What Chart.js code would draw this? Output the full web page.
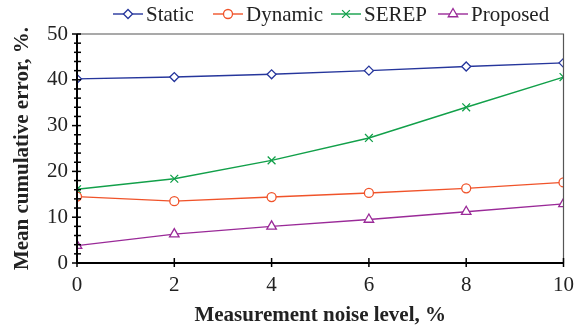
<!DOCTYPE html>
<html>
<head>
<meta charset="utf-8">
<script src="https://cdn.jsdelivr.net/npm/chart.js@4/dist/chart.umd.min.js"></script>
<style>
  html, body { margin: 0; padding: 0; background: #fff; }
  #wrap { width: 584px; height: 328px; position: relative; }
</style>
</head>
<body>
<div id="wrap"><canvas id="chartCanvas" width="584" height="328"></canvas></div>
<script>
// Data
const noiseLevels = [0, 2, 4, 6, 8, 10];
const staticErr   = [40.2, 40.6, 41.2, 42.0, 42.9, 43.7];
const dynamicErr  = [14.5, 13.5, 14.4, 15.3, 16.3, 17.6];
const serepErr    = [16.1, 18.4, 22.4, 27.3, 34.0, 40.6];
const proposedErr = [3.8, 6.3, 8.0, 9.5, 11.2, 12.9];
const yTicks = [0, 10, 20, 30, 40, 50];
const xTicks = [0, 2, 4, 6, 8, 10];

const FONT = '"Liberation Serif", "DejaVu Serif", serif';

function toPoints(ys) {
    return noiseLevels.map((x, i) => ({ x: x, y: ys[i] }));
}

function series(label, ys, color, style, radius) {
    return {
        label: label,
        data: toPoints(ys),
        borderColor: color,
        backgroundColor: '#ffffff',
        pointBorderColor: color,
        pointBackgroundColor: '#ffffff',
        pointStyle: style,
        pointRadius: radius,
        pointBorderWidth: 1.3,
        borderWidth: 1.4,
        tension: 0
    };
}

// Frame, inward ticks and line+marker legend
const decorPlugin = {
    id: 'decor',
    afterDraw(chart) {
        const ctx = chart.ctx;
        const a = chart.chartArea;
        const xs = chart.scales.x;
        const ys = chart.scales.y;
        ctx.save();

        // top / right border (grey)
        ctx.strokeStyle = '#555';
        ctx.lineWidth = 1.2;
        ctx.beginPath();
        ctx.moveTo(a.left, a.top);
        ctx.lineTo(a.right, a.top);
        ctx.lineTo(a.right, a.bottom);
        ctx.stroke();

        // left / bottom axes (black)
        ctx.strokeStyle = '#000';
        ctx.lineWidth = 2;
        ctx.beginPath();
        ctx.moveTo(a.left, a.top);
        ctx.lineTo(a.left, a.bottom);
        ctx.lineTo(a.right, a.bottom);
        ctx.stroke();

        // y ticks every 2 units
        ctx.lineWidth = 1.5;
        for (let v = 0; v <= 50; v += 2) {
            const py = ys.getPixelForValue(v);
            const major = v % 10 === 0;
            ctx.beginPath();
            ctx.moveTo(a.left - (major ? 5 : 3), py);
            ctx.lineTo(a.left + 4, py);
            ctx.stroke();
        }
        // x ticks
        xTicks.forEach(v => {
            const px = xs.getPixelForValue(v);
            ctx.beginPath();
            ctx.moveTo(px, a.bottom + 4);
            ctx.lineTo(px, a.bottom - 5);
            ctx.stroke();
        });

        // legend
        const items = chart.data.datasets;
        const starts = [113, 213, 331, 438];
        const cy = 14;
        ctx.font = '21px ' + FONT;
        ctx.textBaseline = 'middle';
        ctx.textAlign = 'left';
        items.forEach((ds, i) => {
            const x0 = starts[i];
            ctx.strokeStyle = ds.borderColor;
            ctx.fillStyle = '#ffffff';
            ctx.lineWidth = 1.4;
            ctx.beginPath();
            ctx.moveTo(x0, cy);
            ctx.lineTo(x0 + 30, cy);
            ctx.stroke();
            ctx.lineWidth = 1.3;
            Chart.helpers.drawPoint(ctx, {
                pointStyle: ds.pointStyle,
                radius: ds.pointRadius,
                borderWidth: 1.3,
                rotation: 0
            }, x0 + 15, cy);
            ctx.fillStyle = '#222';
            ctx.fillText(ds.label, x0 + 33, cy + 1);
        });
        ctx.restore();
    }
};

const ctx = document.getElementById('chartCanvas');
const chart = new Chart(ctx, {
    type: 'line',
    data: {
        datasets: [
            series('Static', staticErr, '#26369c', 'rectRot', 4.5),
            series('Dynamic', dynamicErr, '#f0532a', 'circle', 4.5),
            series('SEREP', serepErr, '#12a04a', 'crossRot', 5.5),
            series('Proposed', proposedErr, '#9a2a98', 'triangle', 5.5)
        ]
    },
    options: {
        responsive: false,
        animation: false,
        devicePixelRatio: 1,
        layout: { padding: { top: 34, right: 6, left: 10, bottom: 0 } },
        plugins: {
            legend: { display: false },
            tooltip: { enabled: false }
        },
        scales: {
            x: {
                type: 'linear',
                min: 0,
                max: 10,
                afterBuildTicks: s => { s.ticks = xTicks.map(v => ({ value: v })); },
                afterFit: s => { s.height = 65; },
                grid: { display: false, drawTicks: false },
                border: { display: false },
                ticks: {
                    color: '#222',
                    padding: 10,
                    maxRotation: 0,
                    font: { family: FONT, size: 21 }
                },
                title: {
                    display: true,
                    text: 'Measurement noise level, %',
                    color: '#222',
                    padding: { top: 0, bottom: 0 },
                    font: { family: FONT, size: 21, weight: 'bold' }
                }
            },
            y: {
                min: 0,
                max: 50,
                afterBuildTicks: s => { s.ticks = yTicks.map(v => ({ value: v })); },
                afterFit: s => { s.width = 67; },
                grid: { display: false, drawTicks: false },
                border: { display: false },
                ticks: {
                    color: '#222',
                    padding: 9,
                    font: { family: FONT, size: 21 }
                },
                title: {
                    display: true,
                    text: 'Mean cumulative error, %.',
                    color: '#222',
                    padding: { top: 0, bottom: 4 },
                    font: { family: FONT, size: 21, weight: 'bold' }
                }
            }
        }
    },
    plugins: [decorPlugin]
});
</script>
</body>
</html>
